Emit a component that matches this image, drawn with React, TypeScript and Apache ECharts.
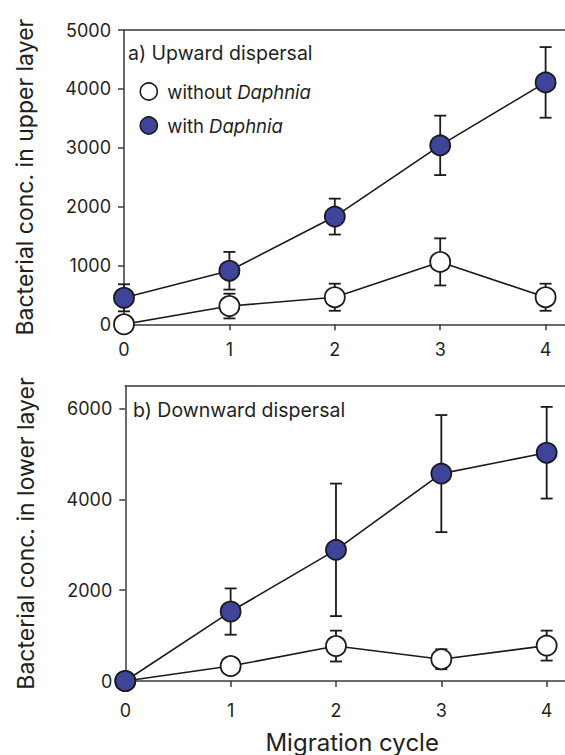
import React, { useEffect, useRef } from "react";
import * as echarts from "echarts";

const cycles = [0, 1, 2, 3, 4];
const upWith = [450, 910, 1830, 3040, 4110];
const upWithErr = [230, 320, 305, 505, 600];
const upWithout = [0, 310, 460, 1060, 460];
const upWithoutErr = [0, 210, 230, 400, 230];
const downWith = [0, 1530, 2890, 4570, 5030];
const downWithErr = [0, 510, 1460, 1290, 1010];
const downWithout = [0, 330, 770, 480, 780];
const downWithoutErr = [0, 150, 340, 220, 330];
const upTicks = [0, 1000, 2000, 3000, 4000, 5000];
const downTicks = [0, 2000, 4000, 6000];

const FONT = "Inter";
const TXT = "#231f20";
const AX = "#3a3a3a";
const BLUE = "#3d4499";

const pts = (vals: number[]) => cycles.map((c, i) => [c, vals[i]]);
const errs = (vals: number[], e: number[]) =>
  cycles.map((c, i) => [c, vals[i] - e[i], vals[i] + e[i]]).filter((d, i) => e[i] > 0);

function renderErr(params: any, api: any) {
  const x = api.value(0);
  const lo = api.value(1);
  const hi = api.value(2);
  const t = api.coord([x, hi]);
  const b = api.coord([x, lo]);
  const w = 6;
  const st = { stroke: "#1a1a1a", lineWidth: 1.8 };
  return {
    type: "group",
    children: [
      { type: "line", shape: { x1: t[0], y1: t[1], x2: b[0], y2: b[1] }, style: st },
      { type: "line", shape: { x1: t[0] - w, y1: t[1], x2: t[0] + w, y2: t[1] }, style: st },
      { type: "line", shape: { x1: b[0] - w, y1: b[1], x2: b[0] + w, y2: b[1] }, style: st },
    ],
  };
}

export default function App() {
  const ref = useRef<HTMLDivElement>(null);
  useEffect(() => {
    document.body.style.margin = "0";
    const chart = echarts.init(ref.current!, null, { renderer: "svg" });
    const fmt = (v: number) => String(v);
    const xBase = (gi: number) => ({
      type: "value",
      gridIndex: gi,
      min: 0,
      max: gi === 0 ? 4.184 : 4.174,
      interval: 1,
      axisLine: { show: true, onZero: false, lineStyle: { color: AX, width: 1.5 } },
      axisTick: { show: true, inside: false, length: 6, customValues: cycles, lineStyle: { color: AX, width: 1.5 } },
      axisLabel: { customValues: cycles, formatter: fmt, margin: gi === 0 ? 16 : 20, fontSize: 18, color: TXT, fontFamily: FONT },
      splitLine: { show: false },
    });
    const xTop = (gi: number) => ({
      type: "value",
      gridIndex: gi,
      position: "top",
      min: 0,
      max: gi === 0 ? 4.184 : 4.174,
      axisLine: { show: true, onZero: false, lineStyle: { color: AX, width: 1.5 } },
      axisTick: { show: false },
      axisLabel: { show: false },
      splitLine: { show: false },
    });
    const yBase = (gi: number, max: number, ticks: number[], interval: number, name: string) => ({
      type: "value",
      gridIndex: gi,
      min: 0,
      max,
      interval,
      name,
      nameLocation: "middle",
      nameGap: 88,
      nameTextStyle: { fontSize: 23, color: TXT, fontFamily: FONT },
      axisLine: { show: true, onZero: false, lineStyle: { color: AX, width: 1.5 } },
      axisTick: { show: true, inside: false, length: 6, customValues: ticks, lineStyle: { color: AX, width: 1.5 } },
      axisLabel: { customValues: ticks, formatter: fmt, margin: 13, fontSize: 18, color: TXT, fontFamily: FONT },
      splitLine: { show: false },
    });
    const lineSeries = (name: string, xi: number, yi: number, data: number[][], fill: string) => ({
      type: "line",
      name,
      xAxisIndex: xi,
      yAxisIndex: yi,
      data,
      symbol: "circle",
      symbolSize: 20,
      z: 5,
      lineStyle: { color: "#1a1a1a", width: 1.6 },
      itemStyle: { color: fill, borderColor: "#1a1a1a", borderWidth: 1.8, opacity: 1 },
      emphasis: { disabled: true },
    });
    const errSeries = (xi: number, yi: number, data: number[][]) => ({
      type: "custom",
      xAxisIndex: xi,
      yAxisIndex: yi,
      data,
      z: 3,
      renderItem: renderErr,
      silent: true,
    });
    chart.setOption({
      animation: false,
      textStyle: { fontFamily: FONT, color: TXT },
      title: [
        { text: "a) Upward dispersal", left: 128, top: 43, padding: 0, textStyle: { fontSize: 19.5, fontWeight: "normal", color: TXT, fontFamily: FONT } },
        { text: "b) Downward dispersal", left: 133, top: 400, padding: 0, textStyle: { fontSize: 19.5, fontWeight: "normal", color: TXT, fontFamily: FONT } },
      ],
      legend: {
        orient: "vertical",
        left: 139.5,
        top: 82,
        padding: 0,
        itemWidth: 17,
        itemHeight: 17,
        itemGap: 15,
        selectedMode: false,
        data: [
          { name: "without Daphnia", icon: "circle", itemStyle: { color: "#ffffff", borderColor: "#1a1a1a", borderWidth: 1.6 } },
          { name: "with Daphnia", icon: "circle", itemStyle: { color: BLUE, borderColor: "#1a1a1a", borderWidth: 1.6 } },
        ],
        formatter: (n: string) => n.replace("Daphnia", "{i|Daphnia}"),
        textStyle: {
          fontSize: 18.5,
          color: TXT,
          fontFamily: FONT,
          padding: [0, 0, 0, 5],
          rich: { i: { fontStyle: "italic", fontSize: 18.5, color: TXT, fontFamily: FONT } },
        },
      },
      grid: [
        { left: 124, top: 30, right: 0, height: 294.3 },
        { left: 125.3, top: 386, right: 0, height: 295.7 },
      ],
      xAxis: [
        xBase(0),
        {
          ...xBase(1),
          name: "Migration cycle",
          nameLocation: "middle",
          nameGap: 49,
          nameTextStyle: { fontSize: 24, color: TXT, fontFamily: FONT, padding: [0, 0, 0, 14] },
        },
        xTop(0),
        xTop(1),
      ],
      yAxis: [
        yBase(0, 5000, upTicks, 1000, "Bacterial conc. in upper layer"),
        yBase(1, 6500, downTicks, 2000, "Bacterial conc. in lower layer"),
      ],
      series: [
        errSeries(0, 0, errs(upWithout, upWithoutErr)),
        errSeries(0, 0, errs(upWith, upWithErr)),
        lineSeries("without Daphnia", 0, 0, pts(upWithout), "#ffffff"),
        lineSeries("with Daphnia", 0, 0, pts(upWith), BLUE),
        errSeries(1, 1, errs(downWithout, downWithoutErr)),
        errSeries(1, 1, errs(downWith, downWithErr)),
        lineSeries("without Daphnia", 1, 1, pts(downWithout), "#ffffff"),
        lineSeries("with Daphnia", 1, 1, pts(downWith), BLUE),
      ],
    });
    return () => chart.dispose();
  }, []);
  return <div ref={ref} style={{ width: 565, height: 755 }} />;
}
